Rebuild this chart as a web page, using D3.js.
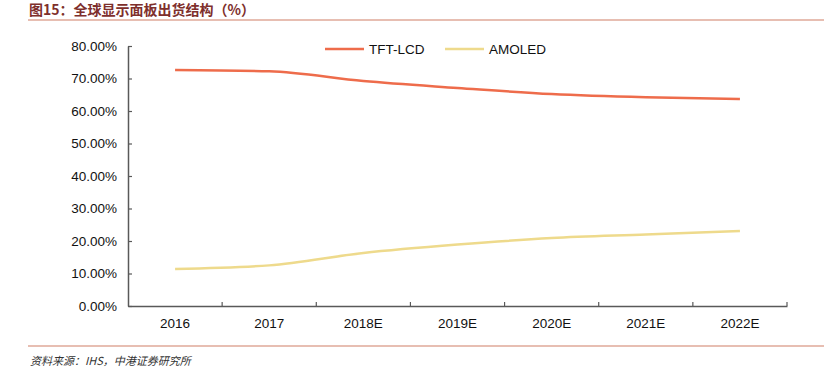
<!DOCTYPE html>
<html><head><meta charset="utf-8">
<script src="https://cdn.jsdelivr.net/npm/d3@7"></script>
<style>body{margin:0;background:#fff}</style>
</head><body>
<script>
const categories = ["2016","2017","2018E","2019E","2020E","2021E","2022E"];
const tftLcd = [72.6, 72.2, 69.2, 67.1, 65.2, 64.2, 63.7];
const amoled = [11.4, 12.5, 16.3, 18.9, 20.9, 22.0, 23.1];
const seriesNames = ["TFT-LCD","AMOLED"];
const seriesColors = ["#EE6C4B","#EEDA8C"];
const yTicks = [0,10,20,30,40,50,60,70,80];

const W = 824, H = 379;
const svg = d3.select("body").append("svg").attr("width",W).attr("height",H);
const fontEN = "'Liberation Sans', Arial, sans-serif";

// title
svg.append("text").attr("x",29).attr("y",15)
  .attr("font-family","'Noto Sans CJK SC', sans-serif").attr("font-weight","bold")
  .attr("font-size",14).attr("fill","#7E2F2C").text("图15：全球显示面板出货结构（%）");
svg.append("line").attr("x1",28).attr("x2",824).attr("y1",20).attr("y2",20)
  .attr("stroke","#DFA898").attr("stroke-width",1.5);
svg.append("line").attr("x1",28).attr("x2",824).attr("y1",346).attr("y2",346)
  .attr("stroke","#DFA898").attr("stroke-width",1.5);
svg.append("text").attr("x",30).attr("y",365)
  .attr("font-family","'Noto Sans CJK SC', sans-serif").attr("font-style","italic")
  .attr("font-size",11).attr("fill","#333")
  .text("资料来源：IHS，中港证券研究所");

const x = d3.scaleBand().domain(categories).range([128,787]);
const y = d3.scaleLinear().domain([0,80]).range([306,46]);

// y axis
const yAx = svg.append("g").attr("transform","translate(128,0)")
  .call(d3.axisLeft(y).tickValues(yTicks).tickSizeInner(-4).tickSizeOuter(0).tickPadding(11)
    .tickFormat(d=>d.toFixed(2)+"%"));
yAx.select(".domain").attr("stroke","#595959").attr("stroke-width",1.5);
yAx.selectAll(".tick line").attr("stroke","#595959").attr("stroke-width",1.2);
yAx.selectAll("text").attr("font-family",fontEN).attr("font-size",13.5).attr("fill","#111");

// x axis
const xAx = svg.append("g").attr("transform","translate(0,306)")
  .call(d3.axisBottom(x).tickSize(0).tickPadding(12));
xAx.select(".domain").attr("stroke","#595959").attr("stroke-width",1.5);
xAx.selectAll("text").attr("font-family",fontEN).attr("font-size",13.5).attr("fill","#111");
const bounds = categories.map(c=>x(c)).concat([x.range()[1]]).slice(1);
xAx.selectAll(".bt").data(bounds).enter().append("line")
  .attr("x1",d=>d).attr("x2",d=>d).attr("y1",0).attr("y2",-4)
  .attr("stroke","#595959").attr("stroke-width",1.2);

const line = d3.line().x((d,i)=>x(categories[i])+x.bandwidth()/2).y(d=>y(d))
  .curve(d3.curveMonotoneX);
[tftLcd, amoled].forEach((s,k)=>{
  svg.append("path").datum(s).attr("d",line).attr("fill","none")
    .attr("stroke",seriesColors[k]).attr("stroke-width",2.5);
});

// legend
const legX = [325, 445];
seriesNames.forEach((n,k)=>{
  svg.append("line").attr("x1",legX[k]).attr("x2",legX[k]+39).attr("y1",49).attr("y2",49)
    .attr("stroke",seriesColors[k]).attr("stroke-width",2.5);
  svg.append("text").attr("x",legX[k]+44).attr("y",54).attr("font-family",fontEN)
    .attr("font-size",13.5).attr("fill","#111").text(n);
});
</script>
</body></html>
